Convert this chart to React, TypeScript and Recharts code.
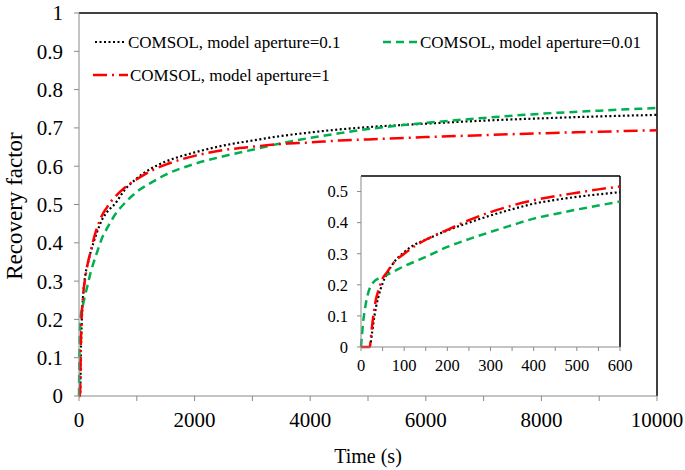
import { LineChart, Line, XAxis, YAxis, ReferenceLine } from "recharts"

const FONT = '"Liberation Serif", "Times New Roman", serif'
const AXIS_GREY = "#8a8a8a"

// time (s)
const times = [
  0, 5, 10, 15, 20, 25, 30, 35, 40, 50, 60, 75, 100, 125, 150, 200, 250, 300, 350, 400, 450, 500, 550, 600,
  800, 1000, 1250, 1500, 2000, 2500, 3000, 3500, 4000, 4500, 5000, 6000, 7000, 8000, 9000, 10000,
]

// COMSOL, model aperture=0.1
const aperture01 = [
  0, 0, 0, 0, 0, 0.04, 0.09, 0.13, 0.16, 0.205, 0.235, 0.27, 0.305, 0.33, 0.345, 0.375, 0.4, 0.423, 0.443, 0.461,
  0.473, 0.483, 0.491, 0.498, 0.54, 0.568, 0.594, 0.612, 0.636, 0.654, 0.667, 0.679, 0.688, 0.696, 0.702, 0.711,
  0.719, 0.725, 0.73, 0.734,
]

// COMSOL, model aperture=0.01
const aperture001 = [
  0, 0.08, 0.13, 0.165, 0.188, 0.202, 0.21, 0.216, 0.22, 0.226, 0.232, 0.242, 0.26, 0.275, 0.29, 0.322, 0.347, 0.37,
  0.392, 0.413, 0.428, 0.442, 0.455, 0.468, 0.505, 0.533, 0.557, 0.578, 0.606, 0.626, 0.643, 0.66, 0.674, 0.686,
  0.697, 0.713, 0.726, 0.737, 0.745, 0.752,
]

// COMSOL, model aperture=1
const aperture1 = [
  0, 0, 0, 0, 0, 0.06, 0.115, 0.155, 0.18, 0.22, 0.24, 0.27, 0.3, 0.325, 0.345, 0.377, 0.408, 0.434, 0.455, 0.472,
  0.485, 0.496, 0.507, 0.516, 0.545, 0.566, 0.588, 0.604, 0.627, 0.642, 0.651, 0.658, 0.662, 0.667, 0.67, 0.676,
  0.681, 0.686, 0.69, 0.694,
]

const mainXTicks = [0, 1000, 2000, 3000, 4000, 5000, 6000, 7000, 8000, 9000, 10000]
const mainYTicks = [0, 0.1, 0.2, 0.3, 0.4, 0.5, 0.6, 0.7, 0.8, 0.9, 1]
const insetXTicks = [0, 50, 100, 150, 200, 250, 300, 350, 400, 450, 500, 550, 600]
const insetYTicks = [0, 0.1, 0.2, 0.3, 0.4, 0.5]

const data = times.map((t, i) => ({
  t,
  a01: aperture01[i],
  a001: aperture001[i],
  a1: aperture1[i],
}))
const insetData = data.filter((d) => d.t <= 600)

const series = [
  { key: "a01", name: "COMSOL, model aperture=0.1", color: "#000000", dash: "2 2.5", width: 2.2 },
  { key: "a001", name: "COMSOL, model aperture=0.01", color: "#00b050", dash: "8 5", width: 2.5 },
  { key: "a1", name: "COMSOL, model aperture=1", color: "#ff0000", dash: "14 5 2 5", width: 2.5 },
]

// where each legend entry sits (line start x, text start x, row y)
const legendPos: Record<string, { x: number; tx: number; y: number }> = {
  a01: { x: 95, tx: 128, y: 42 },
  a001: { x: 383, tx: 420, y: 42 },
  a1: { x: 93, tx: 130, y: 75 },
}

const every2 = (step: number) => (v: number) => (Math.round(v / step) % 2 === 0 ? String(v) : "")

function YTitle() {
  return (
    <text
      x={22}
      y={206}
      transform="rotate(-90 22 206)"
      textAnchor="middle"
      fontFamily={FONT}
      fontSize={23}
      fill="#000"
    >
      Recovery factor
    </text>
  )
}

function XTitle() {
  return (
    <text x={368} y={463} textAnchor="middle" fontFamily={FONT} fontSize={20} fill="#000">
      Time (s)
    </text>
  )
}

export default function App() {
  const tickStyle = { fontFamily: FONT, fontSize: 21, fill: "#000" }
  const insetTick = { fontFamily: FONT, fontSize: 16.5, fill: "#000" }

  return (
    <div style={{ position: "absolute", left: 0, top: 0, width: 685, height: 470, background: "#fff" }}>
      <LineChart width={685} height={470} data={data} margin={{ top: 13, right: 28, left: 0, bottom: 0 }}>
        <XAxis
          dataKey="t"
          type="number"
          domain={[0, 10000]}
          ticks={mainXTicks}
          tickFormatter={every2(1000)}
          interval={0}
          height={74}
          stroke={AXIS_GREY}
          tickSize={5}
          tickMargin={11}
          tick={tickStyle}
          label={<XTitle />}
        />
        <YAxis
          type="number"
          domain={[0, 1]}
          ticks={mainYTicks}
          interval={0}
          width={79}
          stroke={AXIS_GREY}
          tickSize={5}
          tickMargin={11}
          tick={tickStyle}
          label={<YTitle />}
        />
        <ReferenceLine y={1} stroke="#000" strokeWidth={1.5} />
        <ReferenceLine x={10000} stroke="#000" strokeWidth={1.5} />
        {series.map((s) => (
          <Line
            key={s.key}
            type="monotone"
            dataKey={s.key}
            name={s.name}
            stroke={s.color}
            strokeWidth={s.width}
            strokeDasharray={s.dash}
            dot={false}
            activeDot={false}
            isAnimationActive={false}
          />
        ))}
      </LineChart>

      <svg width={685} height={100} style={{ position: "absolute", left: 0, top: 0 }}>
        {series.map((s) => {
          const p = legendPos[s.key]
          return (
            <g key={s.key}>
              <line
                x1={p.x}
                x2={p.tx - 2}
                y1={p.y}
                y2={p.y}
                stroke={s.color}
                strokeWidth={s.width}
                strokeDasharray={s.dash}
              />
              <text x={p.tx} y={p.y + 6} fontFamily={FONT} fontSize={17} fill="#000">
                {s.name}
              </text>
            </g>
          )
        })}
      </svg>

      <div style={{ position: "absolute", left: 320, top: 170 }}>
        <LineChart width={335} height={210} data={insetData} margin={{ top: 6, right: 35, left: 0, bottom: 0 }}>
          <XAxis
            dataKey="t"
            type="number"
            domain={[0, 600]}
            ticks={insetXTicks}
            tickFormatter={every2(50)}
            interval={0}
            height={33}
            stroke={AXIS_GREY}
            tickSize={4}
            tickMargin={8}
            tick={insetTick}
          />
          <YAxis
            type="number"
            domain={[0, 0.55]}
            ticks={insetYTicks}
            interval={0}
            width={41}
            stroke={AXIS_GREY}
            tickSize={4}
            tickMargin={9}
            tick={insetTick}
          />
          <ReferenceLine y={0.55} stroke="#000" strokeWidth={1.5} />
          <ReferenceLine x={600} stroke="#000" strokeWidth={1.5} />
          {series.map((s) => (
            <Line
              key={s.key}
              type="monotone"
              dataKey={s.key}
              stroke={s.color}
              strokeWidth={s.width}
              strokeDasharray={s.dash}
              dot={false}
              activeDot={false}
              isAnimationActive={false}
            />
          ))}
        </LineChart>
      </div>
    </div>
  )
}
